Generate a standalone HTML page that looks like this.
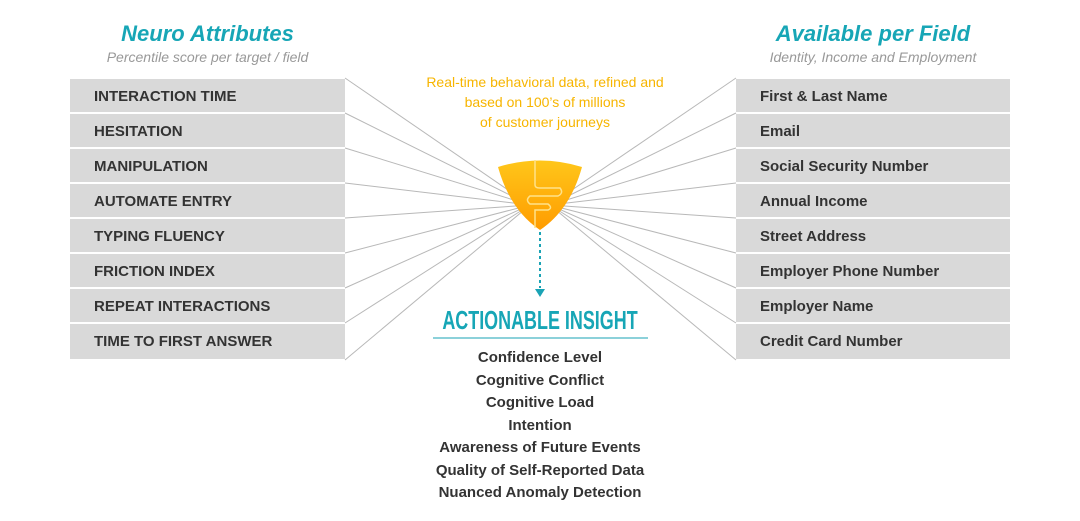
<!DOCTYPE html>
<html><head><style>
body{margin:0;width:1080px;height:521px;background:#fff;position:relative;font-family:"Liberation Sans",sans-serif;overflow:hidden}
.t{position:absolute;text-align:center;white-space:nowrap}
.row{position:absolute;height:33px;background:#d9d9d9;font-weight:bold;font-size:15px;color:#333;line-height:36px;padding-left:24px;box-sizing:border-box;white-space:nowrap}
</style></head><body>
<svg width="1080" height="521" style="position:absolute;left:0;top:0">
<g stroke="#b8b8b8" stroke-width="1">
<line x1="345" y1="78" x2="530" y2="205"/><line x1="345" y1="113" x2="530" y2="205"/>
<line x1="345" y1="148" x2="530" y2="205"/><line x1="345" y1="183" x2="530" y2="205"/>
<line x1="345" y1="218" x2="530" y2="205"/><line x1="345" y1="253" x2="530" y2="205"/>
<line x1="345" y1="288" x2="530" y2="205"/><line x1="345" y1="323" x2="530" y2="205"/>
<line x1="345" y1="360" x2="530" y2="205"/>
<line x1="736" y1="78" x2="550" y2="205"/><line x1="736" y1="113" x2="550" y2="205"/>
<line x1="736" y1="148" x2="550" y2="205"/><line x1="736" y1="183" x2="550" y2="205"/>
<line x1="736" y1="218" x2="550" y2="205"/><line x1="736" y1="253" x2="550" y2="205"/>
<line x1="736" y1="288" x2="550" y2="205"/><line x1="736" y1="323" x2="550" y2="205"/>
<line x1="736" y1="360" x2="550" y2="205"/>
</g>
<defs><linearGradient id="g" x1="0" y1="0" x2="0" y2="1"><stop offset="0" stop-color="#ffc61a"/><stop offset="1" stop-color="#ff9c00"/></linearGradient></defs>
<path d="M498,167 Q540,154 582,167 Q570,210 540,230 Q510,210 498,167Z" fill="url(#g)"/>
<path d="M535,160 V185 Q535,188 540,188 H560 Q564,193 558,196 H530 Q525,200 530,204 H548 Q553,208 548,210 H535 V228" fill="none" stroke="#ffe28a" stroke-width="1.5"/>
<line x1="540" y1="232" x2="540" y2="288" stroke="#1aa3b5" stroke-width="2" stroke-dasharray="3,3"/>
<path d="M535,289 L545,289 L540,297Z" fill="#1aa3b5"/>
<line x1="433" y1="338" x2="648" y2="338" stroke="#1aa3b5" stroke-width="1"/>
</svg>
<div class="t" style="left:70px;width:275px;top:21px;font-size:22px;font-weight:bold;font-style:italic;color:#17a6b6">Neuro Attributes</div>
<div class="t" style="left:70px;width:275px;top:49px;font-size:14px;font-style:italic;color:#999">Percentile score per target / field</div>
<div class="t" style="left:736px;width:274px;top:21px;font-size:22px;font-weight:bold;font-style:italic;color:#17a6b6">Available per Field</div>
<div class="t" style="left:736px;width:274px;top:49px;font-size:14px;font-style:italic;color:#999">Identity, Income and Employment</div>
<div class="t" style="left:400px;width:290px;top:72px;font-size:14px;line-height:20px;color:#f7b500">Real-time behavioral data, refined and<br>based on 100’s of millions<br>of customer journeys</div>
<div class="row" style="left:70px;width:275px;top:79px">INTERACTION TIME</div>
<div class="row" style="left:70px;width:275px;top:114px">HESITATION</div>
<div class="row" style="left:70px;width:275px;top:149px">MANIPULATION</div>
<div class="row" style="left:70px;width:275px;top:184px">AUTOMATE ENTRY</div>
<div class="row" style="left:70px;width:275px;top:219px">TYPING FLUENCY</div>
<div class="row" style="left:70px;width:275px;top:254px">FRICTION INDEX</div>
<div class="row" style="left:70px;width:275px;top:289px">REPEAT INTERACTIONS</div>
<div class="row" style="left:70px;width:275px;top:324px;height:35px">TIME TO FIRST ANSWER</div>
<div class="row" style="left:736px;width:274px;top:79px">First &amp; Last Name</div>
<div class="row" style="left:736px;width:274px;top:114px">Email</div>
<div class="row" style="left:736px;width:274px;top:149px">Social Security Number</div>
<div class="row" style="left:736px;width:274px;top:184px">Annual Income</div>
<div class="row" style="left:736px;width:274px;top:219px">Street Address</div>
<div class="row" style="left:736px;width:274px;top:254px">Employer Phone Number</div>
<div class="row" style="left:736px;width:274px;top:289px">Employer Name</div>
<div class="row" style="left:736px;width:274px;top:324px;height:35px">Credit Card Number</div>
<div class="t" style="left:390px;width:300px;top:305px;font-size:26px;line-height:30px;font-weight:bold;color:#17a6b6;transform:scaleX(0.69)">ACTIONABLE INSIGHT</div>
<div class="t" style="left:400px;width:280px;top:347px;font-size:15px;font-weight:bold;color:#333;line-height:22.5px">Confidence Level<br>Cognitive Conflict<br>Cognitive Load<br>Intention<br>Awareness of Future Events<br>Quality of Self-Reported Data<br>Nuanced Anomaly Detection</div>
</body></html>
